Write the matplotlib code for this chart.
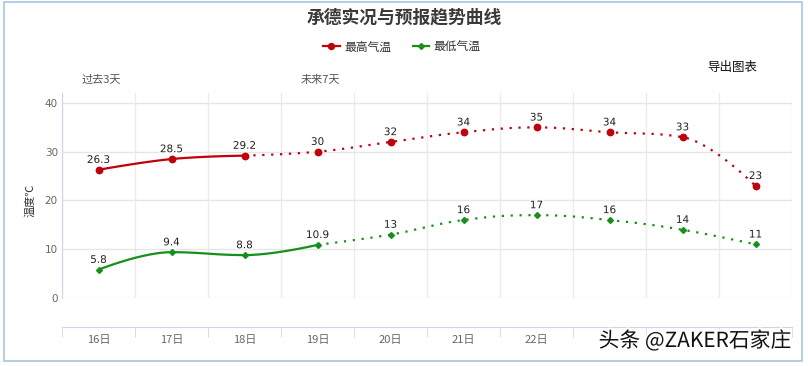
import matplotlib
matplotlib.use("Agg")
import matplotlib.pyplot as plt
import matplotlib.patheffects as pe
from matplotlib.lines import Line2D
from matplotlib.patches import Rectangle
import numpy as np

plt.rcParams['font.family'] = ['Noto Sans CJK SC', 'DejaVu Sans']

# ---------------- data ----------------
dates = ['16日', '17日', '18日', '19日', '20日', '21日', '22日', '23日', '24日', '25日']
visible_date_labels = ['16日', '17日', '18日', '19日', '20日', '21日', '22日', '', '', '']  # rest hidden by watermark
high = [26.3, 28.5, 29.2, 30, 32, 34, 35, 34, 33, 23]
low = [5.8, 9.4, 8.8, 10.9, 13, 16, 17, 16, 14, 11]
high_actual_end = 2   # last observed index for max temp
low_actual_end = 3    # last observed index for min temp
high_labels = ['26.3', '28.5', '29.2', '30', '32', '34', '35', '34', '33', '23']
low_labels = ['5.8', '9.4', '8.8', '10.9', '13', '16', '17', '16', '14', '11']
yticks = [0, 10, 20, 30, 40]

RED = '#C0000C'
GREEN = '#16901B'


def spline(xs, ys, smoothing=1.5, n=30):
    """Highcharts-style spline path through the points."""
    xs = list(map(float, xs)); ys = list(map(float, ys))
    m = len(xs)
    lc = [(xs[i], ys[i]) for i in range(m)]
    rc = [(xs[i], ys[i]) for i in range(m)]
    d = smoothing + 1
    for i in range(1, m - 1):
        px, py = xs[i], ys[i]
        lx, ly = xs[i - 1], ys[i - 1]
        nx, ny = xs[i + 1], ys[i + 1]
        lcx = (smoothing * px + lx) / d
        lcy = (smoothing * py + ly) / d
        rcx = (smoothing * px + nx) / d
        rcy = (smoothing * py + ny) / d
        if rcx != lcx:
            corr = ((rcy - lcy) * (rcx - px)) / (rcx - lcx) + py - rcy
            lcy += corr; rcy += corr
        if lcy > ly and lcy > py:
            lcy = max(ly, py); rcy = 2 * py - lcy
        elif lcy < ly and lcy < py:
            lcy = min(ly, py); rcy = 2 * py - lcy
        if rcy > ny and rcy > py:
            rcy = max(ny, py); lcy = 2 * py - rcy
        elif rcy < ny and rcy < py:
            rcy = min(ny, py); lcy = 2 * py - rcy
        lc[i] = (lcx, lcy); rc[i] = (rcx, rcy)
    outx, outy = [xs[0]], [ys[0]]
    t = np.linspace(0, 1, n)[1:]
    for i in range(1, m):
        p0 = np.array([xs[i - 1], ys[i - 1]])
        c1 = np.array(rc[i - 1]); c2 = np.array(lc[i])
        p3 = np.array([xs[i], ys[i]])
        pts = ((1 - t)[:, None] ** 3 * p0 + 3 * ((1 - t) ** 2 * t)[:, None] * c1
               + 3 * ((1 - t) * t ** 2)[:, None] * c2 + (t ** 3)[:, None] * p3)
        outx.extend(pts[:, 0]); outy.extend(pts[:, 1])
    return outx, outy


fig = plt.figure(figsize=(8.08, 3.66), dpi=100)
W, H = 808, 366
ax = fig.add_axes([62 / W, 68 / H, 730 / W, 205 / H])
ax.set_xlim(-0.5, len(dates) - 0.5)
ax.set_ylim(0, 42.05)

# grid
ax.set_yticks(yticks)
ax.set_xticks(range(len(dates)))
ax.set_xticks(np.arange(-0.5, len(dates)), minor=True)
ax.grid(axis='y', which='major', color='#e6e6e6', lw=1)
ax.grid(axis='x', which='minor', color='#ececec', lw=1)
ax.set_axisbelow(True)

for s in ['top', 'right']:
    ax.spines[s].set_visible(False)
ax.spines['left'].set_color('#ccd6eb')
ax.spines['bottom'].set_color('#ccd6eb')
ax.spines['bottom'].set_position(('outward', 29 * 0.72))

ax.set_xticklabels(visible_date_labels, fontsize=8, color='#666666')
ax.tick_params(axis='x', which='major', length=0, pad=6)
ax.tick_params(axis='x', which='minor', length=7, color='#ccd6eb', direction='out')
ax.tick_params(axis='y', length=0, pad=3, labelsize=7.5, labelcolor='#666666')
for lab in ax.get_yticklabels():
    lab.set_family('DejaVu Sans')

x = np.arange(len(dates))
# max temperature
sx, sy = spline(x[:high_actual_end + 1], high[:high_actual_end + 1])
ax.plot(sx, sy, color=RED, lw=1.6, solid_capstyle='round', zorder=3)
sx, sy = spline(x[high_actual_end:], high[high_actual_end:])
ax.plot(sx, sy, color=RED, lw=1.6, ls=(0, (1, 3)), zorder=3)
ax.plot(x, high, ls='none', marker='o', ms=4.6, color=RED, zorder=4)
# min temperature
sx, sy = spline(x[:low_actual_end + 1], low[:low_actual_end + 1])
ax.plot(sx, sy, color=GREEN, lw=1.6, solid_capstyle='round', zorder=3)
sx, sy = spline(x[low_actual_end:], low[low_actual_end:])
ax.plot(sx, sy, color=GREEN, lw=1.6, ls=(0, (1, 3)), zorder=3)
ax.plot(x, low, ls='none', marker='D', ms=3.0, color=GREEN, zorder=4)

outline = [pe.withStroke(linewidth=2, foreground='white')]
for xi, v, t in zip(x, high, high_labels):
    ax.annotate(t, (xi, v), xytext=(0, 3.5), textcoords='offset points',
                ha='center', va='bottom', fontsize=7.5, color='#222222',
                family='DejaVu Sans', path_effects=outline, zorder=5)
for xi, v, t in zip(x, low, low_labels):
    ax.annotate(t, (xi, v), xytext=(0, 3.5), textcoords='offset points',
                ha='center', va='bottom', fontsize=7.5, color='#222222',
                family='DejaVu Sans', path_effects=outline, zorder=5)

# texts
fig.text(404 / W, 1 - 17 / H, '承德实况与预报趋势曲线', ha='center', va='center',
         fontsize=12.8, fontweight='bold', color='#3a3a3a')
fig.text(30 / W, 1 - 200 / H, '温度℃', rotation=90, ha='center', va='center',
         fontsize=8, color='#333333')
fig.text(101 / W, 1 - 80 / H, '过去3天', ha='center', va='center', fontsize=8, color='#555555')
fig.text(320 / W, 1 - 80 / H, '未来7天', ha='center', va='center', fontsize=8, color='#555555')
fig.text(732 / W, 1 - 67 / H, '导出图表', ha='center', va='center', fontsize=9, color='#111111')

handles = [Line2D([], [], color=RED, lw=1.6, marker='o', ms=4.3),
           Line2D([], [], color=GREEN, lw=1.6, marker='D', ms=3.0)]
fig.legend(handles, ['最高气温', '最低气温'], loc='center', bbox_to_anchor=(402 / W, 1 - 47 / H),
           ncol=2, frameon=False, fontsize=8.5, handlelength=1.4, handletextpad=0.4,
           columnspacing=1.8, labelcolor='#333333')

# frame
fig.patches.append(Rectangle((4 / W, 5 / H), 798 / W, 359 / H, transform=fig.transFigure,
                             fill=False, edgecolor='#a9c6e2', lw=1.2))

# watermark
fig.text(695 / W, 1 - 341 / H, '头条 @ZAKER石家庄', ha='center', va='center', fontsize=15,
         color='#111111', path_effects=[pe.withStroke(linewidth=3, foreground='white')], zorder=10)

fig.savefig('out.png', dpi=100)
